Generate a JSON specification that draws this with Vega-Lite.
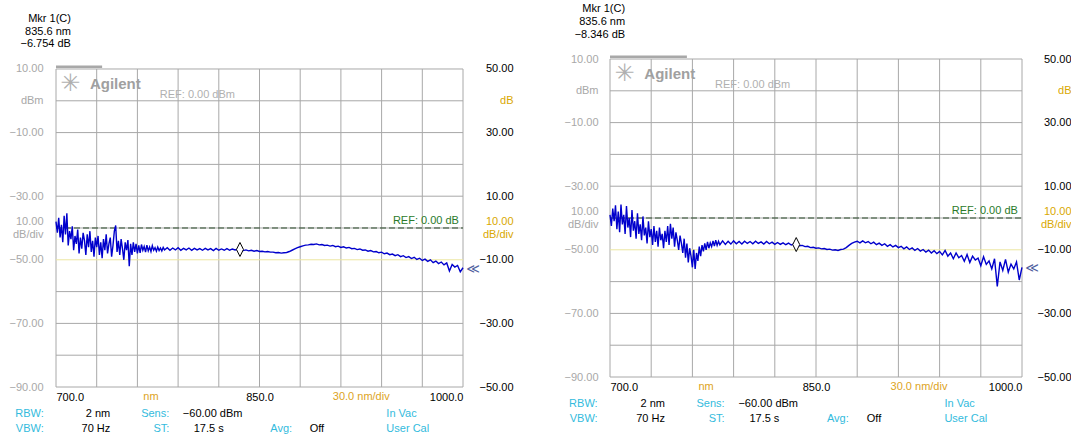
{
  "$schema": "https://vega.github.io/schema/vega-lite/v6.json",
  "autosize": {"type": "pad"},
  "padding": {"left": 9, "top": 3, "right": 0, "bottom": 0},
  "background": "white",
  "spacing": 147,
  "bounds": "flush",
  "config": {
    "view": {"stroke": null},
    "axis": {"labelFont": "Liberation Sans", "labelFontSize": 11, "grid": false, "domain": false, "ticks": false, "title": null, "labelOverlap": false},
    "text": {"font": "Liberation Sans", "fontSize": 11}
  },
  "datasets": {
    "vgrid": [{"nm":700,"db":-50,"db2":50},{"nm":730,"db":-50,"db2":50},{"nm":760,"db":-50,"db2":50},{"nm":790,"db":-50,"db2":50},{"nm":820,"db":-50,"db2":50},{"nm":850,"db":-50,"db2":50},{"nm":880,"db":-50,"db2":50},{"nm":910,"db":-50,"db2":50},{"nm":940,"db":-50,"db2":50},{"nm":970,"db":-50,"db2":50},{"nm":1000,"db":-50,"db2":50}],
    "hgrid": [{"nm":700,"nm2":1000,"db":50},{"nm":700,"nm2":1000,"db":40},{"nm":700,"nm2":1000,"db":30},{"nm":700,"nm2":1000,"db":20},{"nm":700,"nm2":1000,"db":10},{"nm":700,"nm2":1000,"db":0},{"nm":700,"nm2":1000,"db":-20},{"nm":700,"nm2":1000,"db":-30},{"nm":700,"nm2":1000,"db":-40},{"nm":700,"nm2":1000,"db":-50}],
    "yline": [{"nm":700,"nm2":1000,"db":-10}],
    "refline": [{"nm":700,"nm2":1000,"db":0}],
    "barL": [{"nm":700,"nm2":734,"db":50.7}],
    "barR": [{"nm":700,"nm2":756,"db":50.7}],
    "mkrL": [{"t":"Mkr 1(C)","nm":711,"db":65.7},{"t":"835.6 nm","nm":711,"db":61.6},{"t":"−6.754 dB","nm":711,"db":57.7}],
    "mkrR": [{"t":"Mkr 1(C)","nm":711,"db":65.7},{"t":"835.6 nm","nm":711,"db":61.6},{"t":"−8.346 dB","nm":711,"db":57.7}],
    "markerL": [{"nm":835.6,"db":-6.754}],
    "markerR": [{"nm":835.6,"db":-8.346}],
    "endL": [{"t":"≪","nm":1000,"db":-12.9}],
    "endR": [{"t":"≪","nm":1000,"db":-15.7}],
    "logo": [{"t":"Agilent","nm":725,"db":43.7}],
    "star": [{"t":"✳","nm":710.6,"db":45.3}],
    "refdbm": [{"t":"REF: 0.00 dBm","nm":776.5,"db":41.9}],
    "refdb": [{"t":"REF: 0.00 dB","nm":997,"db":2.2}],
    "axisNotes": [{"t":"nm","nm":770,"db":-53.1},{"t":"30.0 nm/div","nm":925,"db":-53.1}],
    "footKeyR": [{"t":"RBW:","nm":691,"db":-58.5},{"t":"VBW:","nm":691,"db":-63.2},{"t":"Sens:","nm":783.5,"db":-58.5},{"t":"ST:","nm":783.5,"db":-63.2}],
    "footKeyL": [{"t":"Avg:","nm":858,"db":-63.2},{"t":"In Vac","nm":943.5,"db":-58.5},{"t":"User Cal","nm":943.5,"db":-63.2}],
    "footValR": [{"t":"2 nm","nm":740,"db":-58.5},{"t":"70 Hz","nm":740,"db":-63.2}],
    "footValL": [{"t":"−60.00 dBm","nm":793.5,"db":-58.5},{"t":"17.5 s","nm":801.5,"db":-63.2},{"t":"Off","nm":887,"db":-63.2}],
    "traceL": [
      {"nm":700,"db":2.0},{"nm":701,"db":-1.5},{"nm":702,"db":3.2},{"nm":703,"db":-3.0},{"nm":704,"db":1.0},{"nm":705,"db":-4.5},{"nm":706,"db":3.8},{"nm":707,"db":-2.0},{"nm":708,"db":4.6},{"nm":709,"db":-5.5},
      {"nm":710,"db":-1.0},{"nm":711,"db":-3.5},{"nm":712,"db":0.5},{"nm":713,"db":-7.0},{"nm":714,"db":-2.5},{"nm":715,"db":-5.0},{"nm":716,"db":-0.5},{"nm":717,"db":-8.0},{"nm":718,"db":-3.0},{"nm":719,"db":-6.5},
      {"nm":720,"db":-1.5},{"nm":721,"db":-4.0},{"nm":722,"db":-8.5},{"nm":723,"db":-2.0},{"nm":724,"db":-6.0},{"nm":725,"db":-1.0},{"nm":726,"db":-7.5},{"nm":727,"db":-4.0},{"nm":728,"db":-9.0},{"nm":729,"db":-3.0},
      {"nm":730,"db":-6.0},{"nm":731,"db":-2.5},{"nm":732,"db":-8.5},{"nm":733,"db":-4.5},{"nm":734,"db":-9.5},{"nm":735,"db":-3.5},{"nm":736,"db":-7.0},{"nm":737,"db":-2.0},{"nm":738,"db":-8.0},{"nm":739,"db":-5.0},
      {"nm":740,"db":-3.0},{"nm":741,"db":-9.0},{"nm":742,"db":-5.5},{"nm":743,"db":-1.0},{"nm":744,"db":0.8},{"nm":745,"db":-7.5},{"nm":746,"db":-4.0},{"nm":747,"db":-8.5},{"nm":748,"db":-3.5},{"nm":749,"db":-6.5},
      {"nm":750,"db":-10.0},{"nm":751,"db":-4.5},{"nm":752,"db":-7.0},{"nm":753,"db":-3.8},{"nm":754,"db":-12.0},{"nm":755,"db":-5.0},{"nm":756,"db":-8.5},{"nm":757,"db":-4.5},{"nm":758,"db":-7.5},{"nm":759,"db":-5.0},
      {"nm":760,"db":-8.0},{"nm":761,"db":-5.5},{"nm":762,"db":-7.8},{"nm":763,"db":-5.2},{"nm":764,"db":-7.0},{"nm":765,"db":-5.8},{"nm":766,"db":-7.6},{"nm":767,"db":-5.4},{"nm":768,"db":-7.2},{"nm":769,"db":-6.0},
      {"nm":770,"db":-7.4},{"nm":771,"db":-5.6},{"nm":772,"db":-7.0},{"nm":773,"db":-6.2},{"nm":774,"db":-7.3},{"nm":775,"db":-6.0},{"nm":776,"db":-7.1},{"nm":777,"db":-6.3},{"nm":778,"db":-7.2},{"nm":779,"db":-6.1},
      {"nm":780,"db":-6.9},{"nm":782,"db":-6.2},{"nm":784,"db":-7.0},{"nm":786,"db":-6.3},{"nm":788,"db":-6.9},{"nm":790,"db":-6.2},{"nm":792,"db":-7.0},{"nm":794,"db":-6.4},{"nm":796,"db":-6.9},{"nm":798,"db":-6.3},
      {"nm":800,"db":-7.0},{"nm":802,"db":-6.4},{"nm":804,"db":-6.9},{"nm":806,"db":-6.5},{"nm":808,"db":-7.0},{"nm":810,"db":-6.4},{"nm":812,"db":-6.9},{"nm":814,"db":-6.5},{"nm":816,"db":-7.1},{"nm":818,"db":-6.4},
      {"nm":820,"db":-7.0},{"nm":822,"db":-6.6},{"nm":824,"db":-7.0},{"nm":826,"db":-6.5},{"nm":828,"db":-7.0},{"nm":830,"db":-6.6},{"nm":832,"db":-6.9},{"nm":834,"db":-6.7},{"nm":836,"db":-6.75},{"nm":838,"db":-7.1},
      {"nm":840,"db":-6.9},{"nm":842,"db":-7.2},{"nm":844,"db":-7.0},{"nm":846,"db":-7.3},{"nm":848,"db":-7.1},{"nm":850,"db":-7.4},{"nm":852,"db":-7.3},{"nm":854,"db":-7.5},{"nm":856,"db":-7.4},{"nm":858,"db":-7.6},
      {"nm":860,"db":-7.6},{"nm":862,"db":-7.8},{"nm":864,"db":-7.7},{"nm":866,"db":-7.9},{"nm":868,"db":-7.8},{"nm":870,"db":-7.7},{"nm":872,"db":-7.4},{"nm":874,"db":-7.0},{"nm":876,"db":-6.6},{"nm":878,"db":-6.2},
      {"nm":880,"db":-5.9},{"nm":882,"db":-5.6},{"nm":884,"db":-5.4},{"nm":886,"db":-5.3},{"nm":888,"db":-5.1},{"nm":890,"db":-5.2},{"nm":892,"db":-5.0},{"nm":894,"db":-5.3},{"nm":896,"db":-5.2},{"nm":898,"db":-5.5},
      {"nm":900,"db":-5.4},{"nm":902,"db":-5.7},{"nm":904,"db":-5.5},{"nm":906,"db":-5.9},{"nm":908,"db":-5.7},{"nm":910,"db":-6.1},{"nm":912,"db":-5.9},{"nm":914,"db":-6.3},{"nm":916,"db":-6.1},{"nm":918,"db":-6.5},
      {"nm":920,"db":-6.4},{"nm":922,"db":-6.8},{"nm":924,"db":-6.6},{"nm":926,"db":-7.0},{"nm":928,"db":-6.9},{"nm":930,"db":-7.3},{"nm":932,"db":-7.1},{"nm":934,"db":-7.5},{"nm":936,"db":-7.4},{"nm":938,"db":-7.8},
      {"nm":940,"db":-7.6},{"nm":942,"db":-8.1},{"nm":944,"db":-7.9},{"nm":946,"db":-8.4},{"nm":948,"db":-8.2},{"nm":950,"db":-8.7},{"nm":952,"db":-8.4},{"nm":954,"db":-9.0},{"nm":956,"db":-8.7},{"nm":958,"db":-9.3},
      {"nm":960,"db":-9.0},{"nm":962,"db":-9.6},{"nm":964,"db":-9.2},{"nm":966,"db":-9.9},{"nm":968,"db":-9.5},{"nm":970,"db":-10.2},{"nm":972,"db":-9.8},{"nm":974,"db":-10.5},{"nm":976,"db":-10.0},{"nm":978,"db":-10.9},
      {"nm":980,"db":-10.4},{"nm":982,"db":-11.2},{"nm":984,"db":-10.7},{"nm":986,"db":-11.6},{"nm":988,"db":-11.0},{"nm":990,"db":-13.5},{"nm":992,"db":-11.5},{"nm":994,"db":-12.3},{"nm":996,"db":-11.8},{"nm":998,"db":-13.8},
      {"nm":1000,"db":-12.5}
    ],
    "traceR": [
      {"nm":700,"db":1.0},{"nm":701,"db":-2.5},{"nm":702,"db":3.0},{"nm":703,"db":-1.0},{"nm":704,"db":4.0},{"nm":705,"db":-3.5},{"nm":706,"db":2.0},{"nm":707,"db":-4.5},{"nm":708,"db":4.2},{"nm":709,"db":-2.0},
      {"nm":710,"db":1.0},{"nm":711,"db":-5.0},{"nm":712,"db":3.8},{"nm":713,"db":-3.0},{"nm":714,"db":0.0},{"nm":715,"db":-6.0},{"nm":716,"db":2.5},{"nm":717,"db":-4.0},{"nm":718,"db":-1.0},{"nm":719,"db":-6.5},
      {"nm":720,"db":1.5},{"nm":721,"db":-5.0},{"nm":722,"db":-2.0},{"nm":723,"db":-7.0},{"nm":724,"db":0.5},{"nm":725,"db":-5.5},{"nm":726,"db":-3.0},{"nm":727,"db":-8.0},{"nm":728,"db":-1.0},{"nm":729,"db":-6.0},
      {"nm":730,"db":-3.5},{"nm":731,"db":-8.5},{"nm":732,"db":-2.5},{"nm":733,"db":-7.5},{"nm":734,"db":-4.0},{"nm":735,"db":-9.0},{"nm":736,"db":-3.0},{"nm":737,"db":-7.0},{"nm":738,"db":-5.0},{"nm":739,"db":-9.5},
      {"nm":740,"db":-4.0},{"nm":741,"db":-7.5},{"nm":742,"db":-2.5},{"nm":743,"db":-8.5},{"nm":744,"db":-1.8},{"nm":745,"db":-6.5},{"nm":746,"db":-3.0},{"nm":747,"db":-9.0},{"nm":748,"db":-4.5},{"nm":749,"db":-7.0},
      {"nm":750,"db":-10.0},{"nm":751,"db":-5.5},{"nm":752,"db":-8.0},{"nm":753,"db":-11.0},{"nm":754,"db":-6.5},{"nm":755,"db":-12.5},{"nm":756,"db":-8.0},{"nm":757,"db":-14.0},{"nm":758,"db":-9.5},{"nm":759,"db":-12.0},
      {"nm":760,"db":-15.5},{"nm":761,"db":-10.0},{"nm":762,"db":-16.0},{"nm":763,"db":-11.0},{"nm":764,"db":-13.5},{"nm":765,"db":-9.0},{"nm":766,"db":-12.0},{"nm":767,"db":-8.5},{"nm":768,"db":-10.5},{"nm":769,"db":-8.0},
      {"nm":770,"db":-10.0},{"nm":771,"db":-7.5},{"nm":772,"db":-9.5},{"nm":773,"db":-7.8},{"nm":774,"db":-9.0},{"nm":775,"db":-7.2},{"nm":776,"db":-8.8},{"nm":777,"db":-7.0},{"nm":778,"db":-8.6},{"nm":779,"db":-7.3},
      {"nm":780,"db":-8.4},{"nm":782,"db":-7.2},{"nm":784,"db":-8.3},{"nm":786,"db":-7.3},{"nm":788,"db":-8.2},{"nm":790,"db":-7.2},{"nm":792,"db":-8.1},{"nm":794,"db":-7.4},{"nm":796,"db":-8.2},{"nm":798,"db":-7.3},
      {"nm":800,"db":-8.0},{"nm":802,"db":-7.4},{"nm":804,"db":-8.1},{"nm":806,"db":-7.3},{"nm":808,"db":-8.0},{"nm":810,"db":-7.5},{"nm":812,"db":-8.2},{"nm":814,"db":-7.4},{"nm":816,"db":-8.1},{"nm":818,"db":-7.6},
      {"nm":820,"db":-8.3},{"nm":822,"db":-7.7},{"nm":824,"db":-8.3},{"nm":826,"db":-7.8},{"nm":828,"db":-8.4},{"nm":830,"db":-7.9},{"nm":832,"db":-8.5},{"nm":834,"db":-8.1},{"nm":836,"db":-8.35},{"nm":838,"db":-8.7},
      {"nm":840,"db":-8.6},{"nm":842,"db":-9.0},{"nm":844,"db":-8.9},{"nm":846,"db":-9.3},{"nm":848,"db":-9.2},{"nm":850,"db":-9.5},{"nm":852,"db":-9.4},{"nm":854,"db":-9.7},{"nm":856,"db":-9.6},{"nm":858,"db":-9.9},
      {"nm":860,"db":-9.8},{"nm":862,"db":-10.1},{"nm":864,"db":-10.0},{"nm":866,"db":-10.2},{"nm":868,"db":-9.9},{"nm":870,"db":-9.8},{"nm":872,"db":-9.3},{"nm":874,"db":-8.6},{"nm":876,"db":-8.0},{"nm":878,"db":-7.6},
      {"nm":880,"db":-7.3},{"nm":882,"db":-7.8},{"nm":884,"db":-7.2},{"nm":886,"db":-7.8},{"nm":888,"db":-7.4},{"nm":890,"db":-8.1},{"nm":892,"db":-7.6},{"nm":894,"db":-8.4},{"nm":896,"db":-7.9},{"nm":898,"db":-8.6},
      {"nm":900,"db":-8.1},{"nm":902,"db":-8.9},{"nm":904,"db":-8.4},{"nm":906,"db":-9.1},{"nm":908,"db":-8.6},{"nm":910,"db":-9.3},{"nm":912,"db":-8.9},{"nm":914,"db":-9.7},{"nm":916,"db":-9.1},{"nm":918,"db":-9.9},
      {"nm":920,"db":-9.4},{"nm":922,"db":-10.2},{"nm":924,"db":-9.6},{"nm":926,"db":-10.4},{"nm":928,"db":-9.9},{"nm":930,"db":-10.7},{"nm":932,"db":-10.1},{"nm":934,"db":-11.0},{"nm":936,"db":-10.3},{"nm":938,"db":-11.2},
      {"nm":940,"db":-10.5},{"nm":942,"db":-11.6},{"nm":944,"db":-10.2},{"nm":946,"db":-12.0},{"nm":948,"db":-11.0},{"nm":950,"db":-12.8},{"nm":952,"db":-11.0},{"nm":954,"db":-12.5},{"nm":956,"db":-11.8},{"nm":958,"db":-13.6},
      {"nm":960,"db":-11.5},{"nm":962,"db":-14.0},{"nm":964,"db":-12.0},{"nm":966,"db":-13.2},{"nm":968,"db":-12.6},{"nm":970,"db":-15.0},{"nm":972,"db":-12.2},{"nm":974,"db":-14.6},{"nm":976,"db":-13.5},{"nm":978,"db":-16.0},
      {"nm":980,"db":-12.8},{"nm":982,"db":-21.5},{"nm":984,"db":-13.8},{"nm":986,"db":-16.5},{"nm":988,"db":-13.0},{"nm":990,"db":-17.0},{"nm":992,"db":-14.5},{"nm":994,"db":-16.0},{"nm":996,"db":-13.8},{"nm":998,"db":-19.5},
      {"nm":1000,"db":-15.5}
    ]
  },
  "hconcat": [
    {
      "width": 407,
      "height": 328,
      "resolve": {"scale": {"y": "independent"}},
      "layer": [
        {
          "encoding": {
            "x": {"field": "nm", "type": "quantitative", "scale": {"domain": [700, 1000], "nice": false, "zero": false},
                  "axis": {"orient": "bottom", "values": [700, 850, 1000], "format": ".1f", "labelFlush": true, "labelPadding": 4, "labelColor": "black"}},
            "y": {"field": "db", "type": "quantitative", "scale": {"domain": [-50, 53.14], "nice": false, "zero": false},
                  "axis": {"orient": "left", "values": [50, 40, 30, 10, 2.1, -2.1, -10, -30, -50], "labelExpr": "datum.value == 40 ? 'dBm' : datum.value == 2.1 ? '10.00' : datum.value == -2.1 ? 'dB/div' : format(datum.value - 40, '.2f')", "labelColor": "#a8a8a8", "labelPadding": 13}}
          },
          "layer": [
            {"data": {"name": "vgrid"}, "mark": {"type": "rule", "color": "#a8a8a8", "strokeWidth": 1}, "encoding": {"y2": {"field": "db2"}}},
            {"data": {"name": "hgrid"}, "mark": {"type": "rule", "color": "#a8a8a8", "strokeWidth": 1}, "encoding": {"x2": {"field": "nm2"}}},
            {"data": {"name": "yline"}, "mark": {"type": "rule", "color": "#ece6a0", "strokeWidth": 1}, "encoding": {"x2": {"field": "nm2"}}},
            {"data": {"name": "refline"}, "mark": {"type": "rule", "color": "#2d4d2d", "strokeWidth": 1, "strokeDash": [6, 3]}, "encoding": {"x2": {"field": "nm2"}}},
            {"data": {"name": "barL"}, "mark": {"type": "rule", "color": "#a8a8a8", "strokeWidth": 2.5}, "encoding": {"x2": {"field": "nm2"}}},
            {"data": {"name": "traceL"}, "mark": {"type": "line", "color": "#0000cc", "strokeWidth": 1.4}, "encoding": {}},
            {"data": {"name": "markerL"}, "mark": {"type": "point", "shape": "M0,-1L0.5,0L0,1L-0.5,0Z", "size": 196, "filled": true, "fill": "white", "fillOpacity": 1, "stroke": "black", "strokeWidth": 1, "opacity": 1}, "encoding": {}},
            {"data": {"name": "endL"}, "mark": {"type": "text", "color": "#5060a0", "fontSize": 13, "font": "DejaVu Sans", "dx": 10, "align": "center", "baseline": "middle"}, "encoding": {"text": {"field": "t"}}},
            {"data": {"name": "mkrL"}, "mark": {"type": "text", "color": "black", "align": "right", "baseline": "middle"}, "encoding": {"text": {"field": "t"}}},
            {"data": {"name": "star"}, "mark": {"type": "text", "color": "#b0b0b0", "font": "DejaVu Sans", "fontSize": 24, "align": "center", "baseline": "middle"}, "encoding": {"text": {"field": "t"}}},
            {"data": {"name": "logo"}, "mark": {"type": "text", "color": "#a0a0a0", "fontSize": 15, "fontWeight": "bold", "align": "left", "baseline": "alphabetic"}, "encoding": {"text": {"field": "t"}}},
            {"data": {"name": "refdbm"}, "mark": {"type": "text", "color": "#b0b0b0", "align": "left", "baseline": "middle"}, "encoding": {"text": {"field": "t"}}},
            {"data": {"name": "refdb"}, "mark": {"type": "text", "color": "#2a7a2a", "align": "right", "baseline": "middle"}, "encoding": {"text": {"field": "t"}}},
            {"data": {"name": "axisNotes"}, "mark": {"type": "text", "color": "#dda322", "align": "center", "baseline": "middle"}, "encoding": {"text": {"field": "t"}}},
            {"data": {"name": "footKeyR"}, "mark": {"type": "text", "color": "#33bbdd", "align": "right", "baseline": "middle"}, "encoding": {"text": {"field": "t"}}},
            {"data": {"name": "footKeyL"}, "mark": {"type": "text", "color": "#33bbdd", "align": "left", "baseline": "middle"}, "encoding": {"text": {"field": "t"}}},
            {"data": {"name": "footValR"}, "mark": {"type": "text", "color": "black", "align": "right", "baseline": "middle"}, "encoding": {"text": {"field": "t"}}},
            {"data": {"name": "footValL"}, "mark": {"type": "text", "color": "black", "align": "left", "baseline": "middle"}, "encoding": {"text": {"field": "t"}}}
          ]
        },
        {
          "data": {"name": "hgrid"},
          "mark": {"type": "point", "opacity": 0},
          "encoding": {
            "y": {"field": "db", "type": "quantitative", "scale": {"domain": [-50, 53.14], "nice": false, "zero": false},
                  "axis": {"orient": "right", "values": [50, 40, 30, 10, 2.1, -2.1, -10, -30, -50], "labelExpr": "datum.value == 40 ? 'dB' : datum.value == 2.1 ? '10.00' : datum.value == -2.1 ? 'dB/div' : format(datum.value, '.2f')",
                           "labelColor": {"condition": {"test": "datum.value == 40 || datum.value == 2.1 || datum.value == -2.1", "value": "#d9a800"}, "value": "black"},
                           "labelAlign": "right", "labelPadding": 50}}
          }
        }
      ]
    },
    {
      "width": 412,
      "height": 328,
      "resolve": {"scale": {"y": "independent"}},
      "layer": [
        {
          "encoding": {
            "x": {"field": "nm", "type": "quantitative", "scale": {"domain": [700, 1000], "nice": false, "zero": false},
                  "axis": {"orient": "bottom", "values": [700, 850, 1000], "format": ".1f", "labelFlush": true, "labelPadding": 4, "offset": -10, "labelColor": "black"}},
            "y": {"field": "db", "type": "quantitative", "scale": {"domain": [-53.14, 50], "nice": false, "zero": false},
                  "axis": {"orient": "left", "values": [50, 40, 30, 10, 2.1, -2.1, -10, -30, -50], "labelExpr": "datum.value == 40 ? 'dBm' : datum.value == 2.1 ? '10.00' : datum.value == -2.1 ? 'dB/div' : format(datum.value - 40, '.2f')", "labelColor": "#a8a8a8", "labelPadding": 12}}
          },
          "layer": [
            {"data": {"name": "vgrid"}, "mark": {"type": "rule", "color": "#a8a8a8", "strokeWidth": 1}, "encoding": {"y2": {"field": "db2"}}},
            {"data": {"name": "hgrid"}, "mark": {"type": "rule", "color": "#a8a8a8", "strokeWidth": 1}, "encoding": {"x2": {"field": "nm2"}}},
            {"data": {"name": "yline"}, "mark": {"type": "rule", "color": "#ece6a0", "strokeWidth": 1}, "encoding": {"x2": {"field": "nm2"}}},
            {"data": {"name": "refline"}, "mark": {"type": "rule", "color": "#2d4d2d", "strokeWidth": 1, "strokeDash": [6, 3]}, "encoding": {"x2": {"field": "nm2"}}},
            {"data": {"name": "barR"}, "mark": {"type": "rule", "color": "#a8a8a8", "strokeWidth": 2.5}, "encoding": {"x2": {"field": "nm2"}}},
            {"data": {"name": "traceR"}, "mark": {"type": "line", "color": "#0000cc", "strokeWidth": 1.4}, "encoding": {}},
            {"data": {"name": "markerR"}, "mark": {"type": "point", "shape": "M0,-1L0.5,0L0,1L-0.5,0Z", "size": 196, "filled": true, "fill": "white", "fillOpacity": 1, "stroke": "black", "strokeWidth": 1, "opacity": 1}, "encoding": {}},
            {"data": {"name": "endR"}, "mark": {"type": "text", "color": "#5060a0", "fontSize": 13, "font": "DejaVu Sans", "dx": 10, "align": "center", "baseline": "middle"}, "encoding": {"text": {"field": "t"}}},
            {"data": {"name": "mkrR"}, "mark": {"type": "text", "color": "black", "align": "right", "baseline": "middle"}, "encoding": {"text": {"field": "t"}}},
            {"data": {"name": "star"}, "mark": {"type": "text", "color": "#b0b0b0", "font": "DejaVu Sans", "fontSize": 24, "align": "center", "baseline": "middle"}, "encoding": {"text": {"field": "t"}}},
            {"data": {"name": "logo"}, "mark": {"type": "text", "color": "#a0a0a0", "fontSize": 15, "fontWeight": "bold", "align": "left", "baseline": "alphabetic"}, "encoding": {"text": {"field": "t"}}},
            {"data": {"name": "refdbm"}, "mark": {"type": "text", "color": "#b0b0b0", "align": "left", "baseline": "middle"}, "encoding": {"text": {"field": "t"}}},
            {"data": {"name": "refdb"}, "mark": {"type": "text", "color": "#2a7a2a", "align": "right", "baseline": "middle"}, "encoding": {"text": {"field": "t"}}},
            {"data": {"name": "axisNotes"}, "mark": {"type": "text", "color": "#dda322", "align": "center", "baseline": "middle"}, "encoding": {"text": {"field": "t"}}},
            {"data": {"name": "footKeyR"}, "mark": {"type": "text", "color": "#33bbdd", "align": "right", "baseline": "middle"}, "encoding": {"text": {"field": "t"}}},
            {"data": {"name": "footKeyL"}, "mark": {"type": "text", "color": "#33bbdd", "align": "left", "baseline": "middle"}, "encoding": {"text": {"field": "t"}}},
            {"data": {"name": "footValR"}, "mark": {"type": "text", "color": "black", "align": "right", "baseline": "middle"}, "encoding": {"text": {"field": "t"}}},
            {"data": {"name": "footValL"}, "mark": {"type": "text", "color": "black", "align": "left", "baseline": "middle"}, "encoding": {"text": {"field": "t"}}}
          ]
        },
        {
          "data": {"name": "hgrid"},
          "mark": {"type": "point", "opacity": 0},
          "encoding": {
            "y": {"field": "db", "type": "quantitative", "scale": {"domain": [-53.14, 50], "nice": false, "zero": false},
                  "axis": {"orient": "right", "values": [50, 40, 30, 10, 2.1, -2.1, -10, -30, -50], "labelExpr": "datum.value == 40 ? 'dB' : datum.value == 2.1 ? '10.00' : datum.value == -2.1 ? 'dB/div' : format(datum.value, '.2f')",
                           "labelColor": {"condition": {"test": "datum.value == 40 || datum.value == 2.1 || datum.value == -2.1", "value": "#d9a800"}, "value": "black"},
                           "labelAlign": "right", "labelPadding": 49}}
          }
        }
      ]
    }
  ]
}
